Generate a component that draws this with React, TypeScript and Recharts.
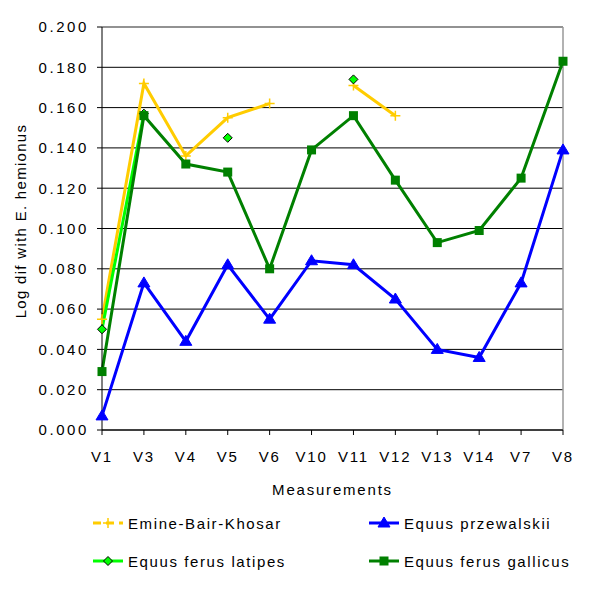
import React from "react";
import { LineChart, Line, XAxis, YAxis, CartesianGrid, Legend, ReferenceLine } from "recharts";

const categories = ["V1", "V3", "V4", "V5", "V6", "V10", "V11", "V12", "V13", "V14", "V7", "V8"];
const emine = [0.055, 0.172, 0.136, 0.155, 0.162, null, 0.171, 0.156, null, null, null, null];
const przewalskii = [0.007, 0.073, 0.044, 0.082, 0.055, 0.084, 0.082, 0.065, 0.04, 0.036, 0.073, 0.139];
const latipes = [0.05, 0.157, null, 0.145, null, null, 0.174, null, null, null, null, null];
const gallicus = [0.029, 0.156, 0.132, 0.128, 0.08, 0.139, 0.156, 0.124, 0.093, 0.099, 0.125, 0.183];
const yTicks = [0, 0.02, 0.04, 0.06, 0.08, 0.1, 0.12, 0.14, 0.16, 0.18, 0.2];

const data = categories.map((cat, i) => ({
  cat,
  emine: emine[i],
  przewalskii: przewalskii[i],
  latipes: latipes[i],
  gallicus: gallicus[i],
}));

const FONT = "'Liberation Sans', Arial, sans-serif";
const YELLOW = "#FFCC00";
const BLUE = "#0000FF";
const LIME = "#00FF00";
const GREEN = "#008000";

const plus = (cx: number, cy: number, key?: any) => (
  <path key={key} d={`M${cx - 5},${cy}h10M${cx},${cy - 5}v10`} stroke={YELLOW} strokeWidth={1.5} fill="none" />
);
const tri = (cx: number, cy: number, key?: any) => (
  <path key={key} d={`M${cx},${cy - 6}L${cx + 6},${cy + 4}L${cx - 6},${cy + 4}Z`} fill={BLUE} stroke={BLUE} />
);
const diamond = (cx: number, cy: number, key?: any) => (
  <path key={key} d={`M${cx},${cy - 4.5}L${cx + 4.5},${cy}L${cx},${cy + 4.5}L${cx - 4.5},${cy}Z`} fill={LIME} stroke="#000" strokeWidth={1} />
);
const square = (cx: number, cy: number, key?: any) => (
  <rect key={key} x={cx - 4.5} y={cy - 4.5} width={9} height={9} fill={GREEN} />
);

const dotOf = (fn: typeof plus) => (p: any) =>
  p.cx == null || p.cy == null || p.value == null ? <g key={p.index} /> : fn(p.cx, p.cy, p.index);

const legendItems = [
  { name: "Emine-Bair-Khosar", color: YELLOW, mark: plus, dashed: true },
  { name: "Equus przewalskii", color: BLUE, mark: tri },
  { name: "Equus ferus latipes", color: LIME, mark: diamond },
  { name: "Equus ferus gallicus", color: GREEN, mark: square },
];

const renderLegend = () => (
  <div style={{ position: "relative", width: 600, height: 89, fontFamily: FONT, fontSize: 15, letterSpacing: 1.6 }}>
    {legendItems.map((it, i) => {
      const left = i % 2 === 0 ? 93 : 369;
      const top = i < 2 ? 23 : 61;
      return (
        <div key={it.name} style={{ position: "absolute", left, top: top - 10, height: 20, display: "flex", alignItems: "center" }}>
          <svg width={32} height={20}>
            <line x1={0} y1={10} x2={30} y2={10} stroke={it.color} strokeWidth={3} strokeDasharray={it.dashed ? "8 5" : undefined} />
            {it.mark(15, 10)}
          </svg>
          <span style={{ marginLeft: 3, color: "#000" }}>{it.name}</span>
        </div>
      );
    })}
  </div>
);

export default function App() {
  return (
    <div style={{ position: "absolute", left: 0, top: 0, width: 600, height: 589, background: "#fff" }}>
      <LineChart width={600} height={589} data={data} margin={{ top: 27, right: 37, left: 0, bottom: 0 }} style={{ fontFamily: FONT }}>
        <CartesianGrid vertical={false} stroke="#000" strokeWidth={1} />
        <ReferenceLine y={0.2} stroke="#999" strokeWidth={1.5} />
        <ReferenceLine x="V8" stroke="#999" strokeWidth={1.5} />
        <XAxis
          dataKey="cat"
          interval={0}
          height={70}
          tickSize={5}
          tickMargin={16}
          stroke="#000"
          tick={{ fill: "#000", fontSize: 15, letterSpacing: 1.8 }}
          label={{ value: "Measurements", position: "insideBottom", offset: 5, fill: "#000", fontSize: 15, letterSpacing: 1.8 }}
        />
        <YAxis
          width={102}
          domain={[0, 0.2]}
          ticks={yTicks}
          tickSize={5}
          tickMargin={8}
          stroke="#000"
          tickFormatter={(v: number) => v.toFixed(3)}
          tick={{ fill: "#000", fontSize: 15, letterSpacing: 2.6 }}
          label={{
            content: () => {
              const cx = 20;
              const cy = 221;
              return (
                <text x={cx} y={cy} transform={`rotate(-90 ${cx} ${cy})`} textAnchor="middle" dominantBaseline="central" fill="#000" fontSize={15} letterSpacing={1.3} fontFamily={FONT}>
                  Log dif with E. hemionus
                </text>
              );
            },
          }}
        />
        <Legend verticalAlign="bottom" content={renderLegend} wrapperStyle={{ left: 0, width: 600, height: 89 }} />
        <Line dataKey="emine" name="Emine-Bair-Khosar" stroke={YELLOW} strokeWidth={3} dot={dotOf(plus)} activeDot={false} isAnimationActive={false} />
        <Line dataKey="przewalskii" name="Equus przewalskii" stroke={BLUE} strokeWidth={3} dot={dotOf(tri)} activeDot={false} isAnimationActive={false} />
        <Line dataKey="latipes" name="Equus ferus latipes" stroke={LIME} strokeWidth={3} dot={dotOf(diamond)} activeDot={false} isAnimationActive={false} />
        <Line dataKey="gallicus" name="Equus ferus gallicus" stroke={GREEN} strokeWidth={3} dot={dotOf(square)} activeDot={false} isAnimationActive={false} />
      </LineChart>
    </div>
  );
}
